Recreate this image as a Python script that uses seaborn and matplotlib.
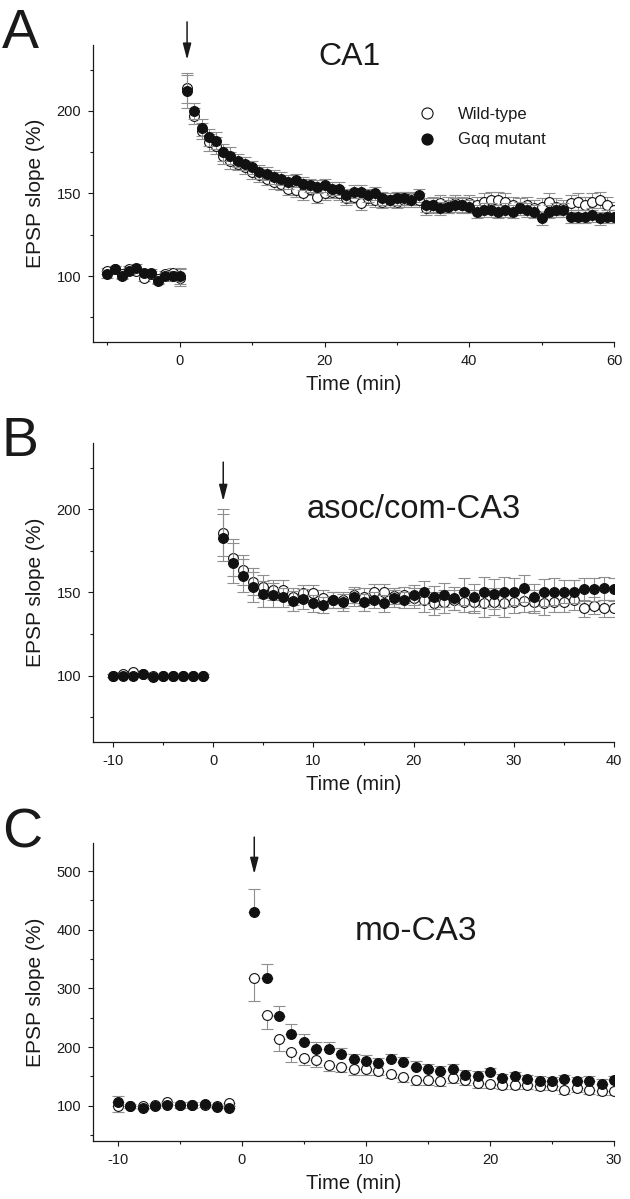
import numpy as np
import pandas as pd
import matplotlib
matplotlib.use("Agg")
import matplotlib.pyplot as plt
from matplotlib.ticker import MultipleLocator
from matplotlib.lines import Line2D
import seaborn as sns

sns.set_theme(style="ticks")
plt.rcParams['font.family'] = ['Liberation Sans', 'DejaVu Sans']
plt.rcParams['axes.unicode_minus'] = False

TXT = "#1a1a1a"
ERR = "#8e8e8e"

# ---------------- Panel A: CA1 ----------------
A_base_t = list(range(-10, 1))
A_post_t = list(range(1, 61))
A_wt_base = [103, 104, 101, 104, 103, 99, 101, 98, 101, 102, 99]
A_mut_base = [101, 104, 100, 103, 105, 102, 102, 97, 100, 100, 100]
A_wt_base_sem = [2, 2, 2, 2, 2, 2, 2, 2, 2, 3, 5]
A_mut_base_sem = [2, 2, 2, 2, 2, 2, 2, 2, 2, 3, 5]
A_mut_post = [212, 200, 190, 184, 182, 175, 173, 170, 168, 166,
              163, 162, 160, 159, 157, 158, 156, 155, 154, 155,
              153, 153, 149, 151, 151, 149, 150, 147, 146, 147,
              147, 146, 149, 143, 143, 141, 142, 143, 143, 142,
              139, 140, 140, 139, 140, 139, 141, 140, 139, 135,
              139, 140, 140, 136, 136, 136, 137, 135, 136, 136]
A_wt_post = [214, 197, 188, 181, 179, 173, 170, 168, 166, 163,
             161, 159, 157, 156, 153, 152, 150, 153, 148, 150,
             151, 150, 147, 148, 144, 147, 146, 145, 146, 145,
             146, 147, 146, 141, 143, 144, 143, 144, 143, 144,
             143, 145, 146, 146, 145, 143, 142, 143, 141, 142,
             145, 142, 141, 144, 145, 143, 145, 146, 143, 140]
A_mut_sem = [10, 5, 5, 5, 5, 5, 5, 4, 4, 4,
             4, 4, 4, 4, 4, 4, 4, 4, 4, 4,
             4, 4, 4, 4, 4, 4, 4, 4, 4, 4,
             4, 4, 4, 4, 4, 4, 4, 4, 4, 4,
             4, 4, 4, 4, 4, 4, 4, 4, 4, 4,
             4, 4, 4, 4, 4, 4, 4, 4, 4, 4]
A_wt_sem = [9, 5, 5, 5, 5, 5, 5, 4, 4, 4,
            4, 4, 4, 4, 4, 4, 4, 4, 4, 4,
            4, 4, 4, 4, 4, 4, 4, 4, 4, 4,
            4, 4, 4, 4, 5, 5, 5, 5, 5, 5,
            5, 5, 5, 5, 5, 5, 5, 5, 5, 5,
            5, 5, 5, 5, 5, 5, 5, 5, 5, 5]

# ---------------- Panel B: asoc/com-CA3 ----------------
B_base_t = list(range(-10, 0))
B_post_t = list(range(1, 41))
B_mut_base = [100, 100, 100, 101, 99, 100, 100, 100, 100, 100]
B_wt_base = [100, 101, 102, 101, 100, 100, 100, 100, 100, 100]
B_base_sem = [1, 1, 1, 1, 1, 1, 1, 1, 1, 1]
B_mut_post = [183, 168, 160, 153.5, 149, 148.5, 147, 145, 146, 143.5,
              142.5, 145.5, 144, 147, 144, 145.5, 143.5, 146.5, 145.5, 148.5,
              150, 147, 148.5, 146.5, 150.5, 147, 150.5, 149, 150.5, 150.5,
              152.5, 147, 150, 150.5, 150.5, 150.5, 152, 152, 152.5, 152]
B_wt_post = [186, 171, 163.5, 156.5, 153.5, 151.5, 151.5, 147.5, 149.5, 149.5,
             146.5, 145.5, 145.5, 148.5, 147.5, 150, 150, 148, 148.5, 146.5,
             145.5, 143.5, 144.5, 145.5, 144, 144.5, 143.5, 144.5, 143.5, 144.5,
             145, 144.5, 143.5, 144.5, 144.5, 145.5, 140.5, 142, 140.5, 140.5]
B_mut_sem = [14, 12, 10, 9, 8, 7, 6, 6, 6, 5,
             5, 5, 5, 5, 5, 5, 5, 5, 5, 6,
             7, 7, 7, 7, 8, 8, 9, 9, 9, 8,
             8, 8, 8, 8, 7, 7, 7, 7, 7, 7]
B_wt_sem = [14, 11, 9, 8, 7, 6, 6, 5, 5, 5,
            5, 5, 5, 5, 5, 5, 5, 5, 5, 6,
            7, 7, 7, 6, 6, 7, 8, 8, 8, 7,
            7, 7, 7, 6, 6, 6, 5, 5, 5, 5]

# ---------------- Panel C: mo-CA3 ----------------
C_base_t = list(range(-10, 0))
C_post_t = list(range(1, 31))
C_mut_base = [107, 99, 96, 100, 102, 102, 102, 103, 98, 96]
C_wt_base = [99, 100, 99, 101, 107, 101, 101, 102, 100, 104]
C_base_sem = [9, 4, 4, 4, 4, 4, 4, 4, 4, 4]
C_mut_post = [430, 318, 253, 223, 208, 196, 197, 188, 179, 176,
              173, 179, 174, 167, 163, 160, 163, 153, 151, 157,
              147, 150, 146, 143, 142, 146, 142, 143, 138, 144]
C_wt_post = [318, 254, 214, 191, 182, 178, 170, 166, 162, 162,
             160, 155, 149, 144, 144, 142, 147, 144, 139, 138,
             136, 136, 135, 134, 134, 127, 131, 127, 126, 126]
C_mut_sem = [40, 24, 17, 17, 14, 13, 12, 11, 10, 10,
             9, 9, 9, 9, 8, 8, 8, 8, 8, 8,
             7, 7, 7, 7, 7, 7, 7, 7, 7, 7]
C_wt_sem = [39, 23, 20, 16, 12, 11, 10, 9, 9, 9,
            8, 8, 8, 8, 8, 8, 8, 8, 8, 7,
            7, 7, 7, 7, 7, 7, 7, 7, 7, 7]

LABELS = ["Wild-type", "G\u03b1q mutant"]

fig = plt.figure(figsize=(6.3, 11.99), dpi=100)
W, H = 630.0, 1199.0


def add_ax(left, right, top, bottom):
    return fig.add_axes([left / W, 1 - bottom / H, (right - left) / W, (bottom - top) / H])


def style_ax(ax, xlim, ylim, xmaj, xmin, ymaj, ymin):
    ax.set_xlim(*xlim)
    ax.set_ylim(*ylim)
    ax.xaxis.set_major_locator(MultipleLocator(xmaj))
    ax.xaxis.set_minor_locator(MultipleLocator(xmin))
    ax.yaxis.set_major_locator(MultipleLocator(ymaj))
    ax.yaxis.set_minor_locator(MultipleLocator(ymin))
    for s in ["top", "right"]:
        ax.spines[s].set_visible(False)
    for s in ["left", "bottom"]:
        ax.spines[s].set_linewidth(0.9)
        ax.spines[s].set_color(TXT)
    ax.tick_params(which="major", direction="out", length=3.5, width=0.8,
                   labelsize=10.5, colors=TXT, pad=5)
    ax.tick_params(which="minor", direction="out", length=2.2, width=0.8, colors=TXT)
    ax.set_xlabel("Time (min)", fontsize=14.5, color=TXT, labelpad=5)
    ax.set_ylabel("EPSP slope (%)", fontsize=15, color=TXT, labelpad=8)
    ax.set_facecolor("white")


def draw_series(ax, t, v, err_lo, err_hi, filled, z):
    df = pd.DataFrame({"t": t, "v": v})
    ax.errorbar(df["t"], df["v"], yerr=[err_lo, err_hi], fmt="none", ecolor=ERR,
                elinewidth=0.8, capsize=4, capthick=0.8, zorder=z - 0.5)
    sns.scatterplot(data=df, x="t", y="v", ax=ax, marker="o", s=50,
                    color="#111111" if filled else "white",
                    edgecolor="#111111", linewidth=0.8, legend=False, zorder=z)


def arrow(ax, x, y0, y1):
    ax.annotate("", xy=(x, y1), xytext=(x, y0),
                arrowprops=dict(arrowstyle="-|>,head_length=0.7,head_width=0.18",
                                color=TXT, lw=1.1, mutation_scale=14,
                                shrinkA=0, shrinkB=0),
                annotation_clip=False)


# Panel A
axA = add_ax(93, 614, 45, 342)
draw_series(axA, A_base_t + A_post_t, A_wt_base + A_wt_post,
            A_wt_base_sem + A_wt_sem, A_wt_base_sem + A_wt_sem, False, 3)
draw_series(axA, A_base_t + A_post_t, A_mut_base + A_mut_post,
            A_mut_base_sem + A_mut_sem, A_mut_base_sem + A_mut_sem, True, 5)
style_ax(axA, (-12, 60), (60, 240), 20, 10, 50, 25)
arrow(axA, 1, 254, 231)
axA.text(23.4, 233, "CA1", fontsize=23, ha="center", va="center", color=TXT)
handles = [Line2D([], [], ls="none", marker="o", ms=8, mfc="white", mec="#111111", mew=0.8),
           Line2D([], [], ls="none", marker="o", ms=8, mfc="#111111", mec="#111111", mew=0.8)]
axA.legend(handles, LABELS, loc="upper left", bbox_to_anchor=(418.7 / W, 1 - 106.6 / H),
           bbox_transform=fig.transFigure, frameon=False, borderpad=0, borderaxespad=0,
           handlelength=1.0, handletextpad=1.35, labelspacing=0.65, fontsize=12,
           labelcolor=TXT)

# Panel B
axB = add_ax(93, 614, 443, 742)
draw_series(axB, B_base_t + B_post_t, B_wt_base + B_wt_post,
            B_base_sem + B_wt_sem, B_base_sem + B_wt_sem, False, 3)
draw_series(axB, B_base_t + B_post_t, B_mut_base + B_mut_post,
            B_base_sem + B_mut_sem, B_base_sem + B_mut_sem, True, 5)
style_ax(axB, (-12, 40), (60, 240), 10, 5, 50, 25)
arrow(axB, 1, 228.5, 205)
axB.text(20, 200, "asoc/com-CA3", fontsize=23.5, ha="center", va="center", color=TXT)

# Panel C
axC = add_ax(93, 614, 843, 1141)
zero_b = [0] * len(C_base_t)
zero_p = [0] * len(C_post_t)
draw_series(axC, C_base_t + C_post_t, C_wt_base + C_wt_post,
            C_base_sem + C_wt_sem, zero_b + zero_p, False, 3)
draw_series(axC, C_base_t + C_post_t, C_mut_base + C_mut_post,
            zero_b + zero_p, C_base_sem + C_mut_sem, True, 5)
style_ax(axC, (-12, 30), (40, 548), 10, 5, 100, 50)
arrow(axC, 1, 558, 495)
axC.text(14, 397, "mo-CA3", fontsize=24, ha="center", va="center", color=TXT)

# Panel letters
for letter, ytop in [("A", 8), ("B", 416), ("C", 808)]:
    fig.text(2 / W, 1 - ytop / H, letter, fontsize=40, ha="left", va="top", color=TXT)

fig.savefig("out.png", dpi=100, facecolor="white")
